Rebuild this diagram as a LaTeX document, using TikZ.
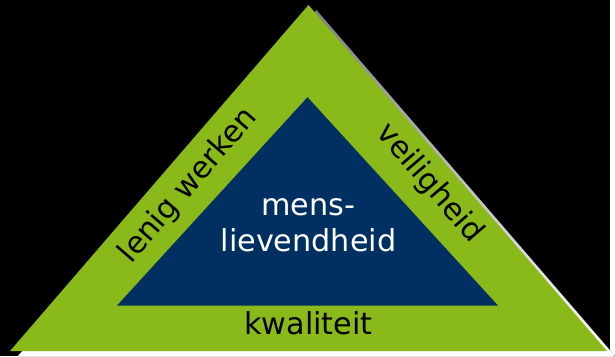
\documentclass[tikz,border=0pt]{standalone}
\usepackage{fontspec}
\setmainfont{DejaVu Sans}
\usetikzlibrary{positioning, calc}
\definecolor{leaf}{RGB}{138,185,26}
\definecolor{navy}{RGB}{0,47,98}
\definecolor{shade}{RGB}{128,128,128}

\begin{document}
\begin{tikzpicture}[
    x=1pt, y=-1pt,
    every node/.style={font=\fontsize{30.5}{37}\selectfont, inner sep=0pt},
    side label/.style={text=black},
    core label/.style={text=white, anchor=base}
]
    % black canvas
    \fill[black] (0,0) rectangle (615,359);
    % corners of the two triangles
    \coordinate (top) at (311,5);
    \coordinate (left) at (10,354);
    \coordinate (right) at (612,354);
    \coordinate (in top) at (310,98);
    \coordinate (in left) at (118,308);
    \coordinate (in right) at (502,308);
    % shadow, then outer and inner triangle
    \fill[shade] ($(top)+(8,5)$) -- ($(left)+(8,5)$) -- ($(right)+(8,5)$) -- cycle;
    \fill[leaf] (top) -- (left) -- (right) -- cycle;
    \fill[navy] (in top) -- (in left) -- (in right) -- cycle;
    % labels on the sides
    \node[side label, rotate=49.2] (flex) at (190,187) {lenig werken};
    \node[side label, rotate=-49.2] (safety) at (433,185) {veiligheid};
    \node[side label, anchor=base] (quality) at (311,337) {kwaliteit};
    % centre text
    \node[core label] (care a) at (311,217) {mens-};
    \node[core label] (care b) at (311,254) {lievendheid};
\end{tikzpicture}
\end{document}
